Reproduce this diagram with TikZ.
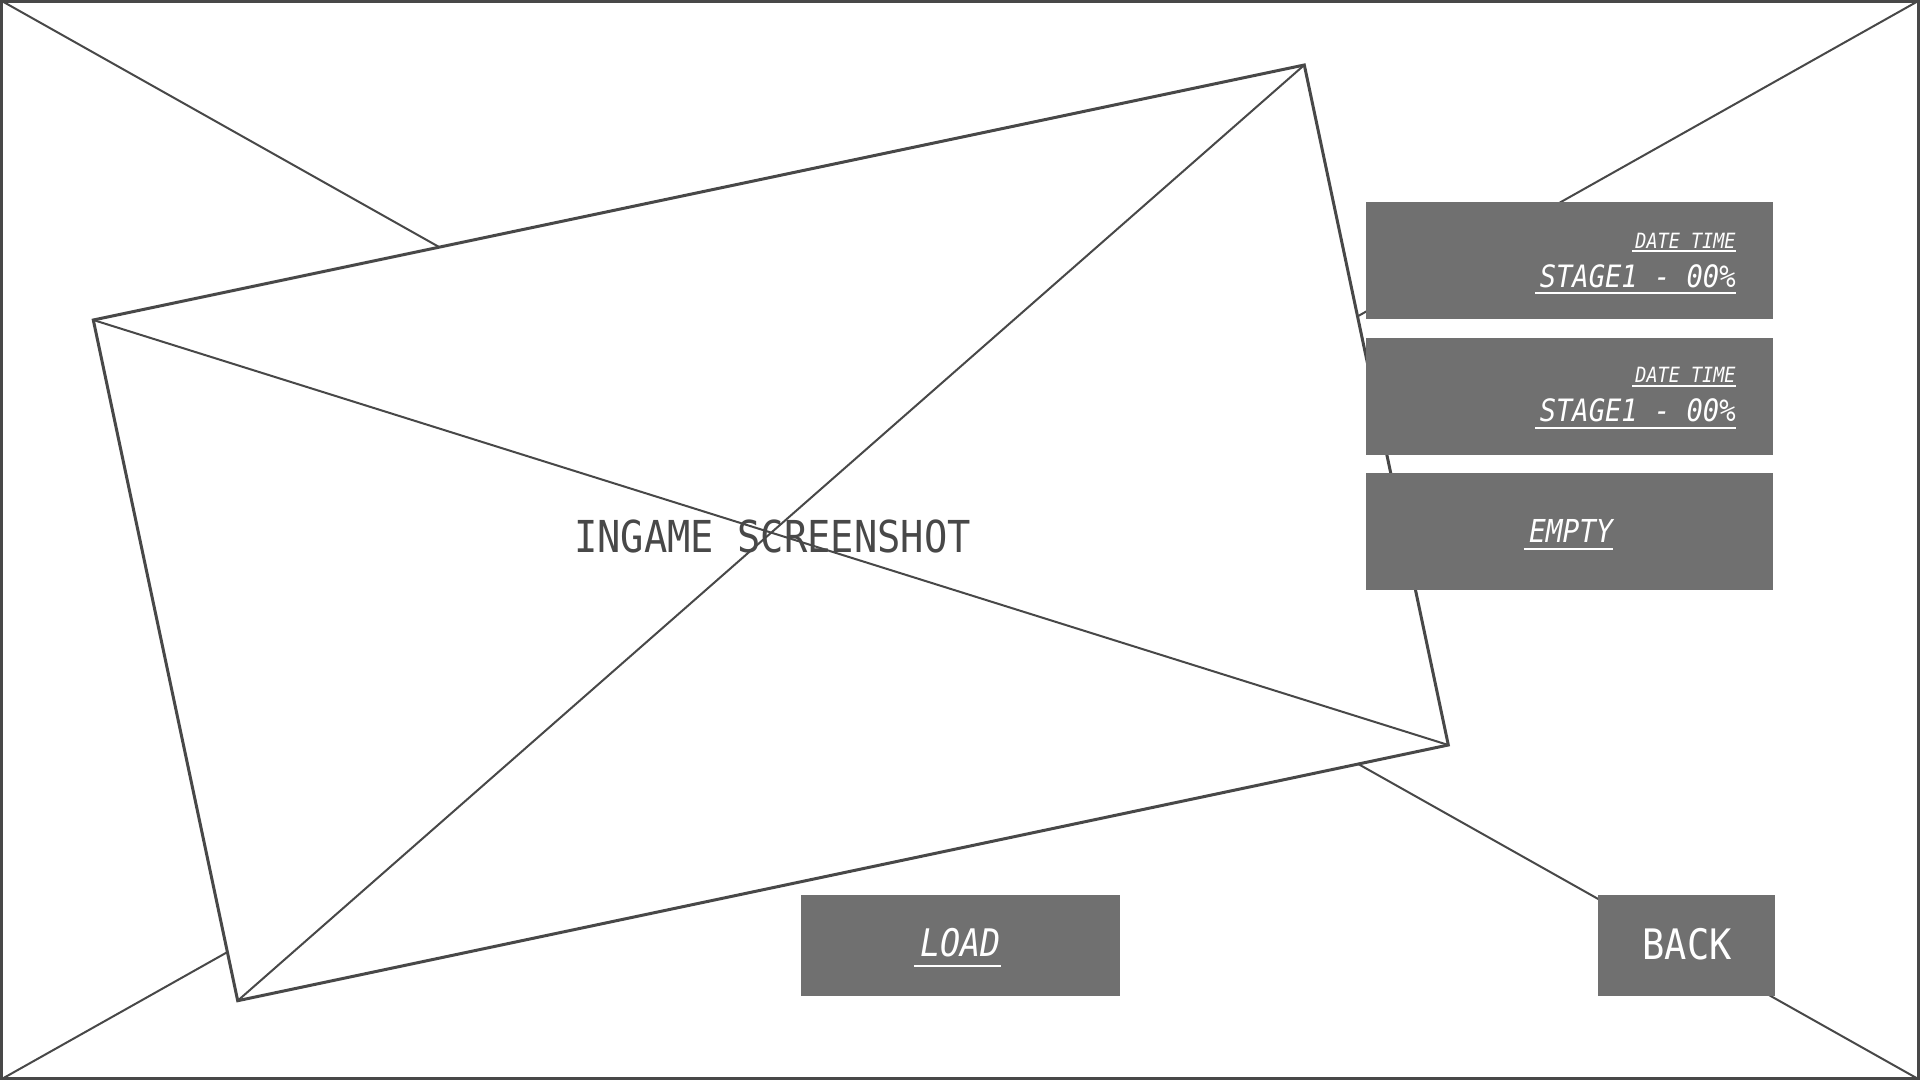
\documentclass[tikz,border=0pt]{standalone}
\usepackage{fontspec}
\usepackage{xcolor}
\usetikzlibrary{calc}
\newfontfamily\wirefont[FakeStretch=0.88]{DejaVu Sans Mono}

\definecolor{wireline}{RGB}{72,72,72}
\definecolor{wirebox}{RGB}{112,112,112}

\begin{document}
\begin{tikzpicture}[x=0.5pt,y=0.5pt,yscale=-1]
\tikzset{
  boxfill/.style={fill=wirebox,draw=none},
  btntext/.style={inner sep=0pt,text=white,font=\wirefont},
  uline/.style={draw=white,line width=1.1pt}
}
\useasboundingbox (0,0) rectangle (1920,1080);

%Shape: Frame
\draw [color=wireline,line width=1.5pt] (1.5,1.5) rectangle (1918.5,1078.5);
%Straight Lines
\draw [color=wireline,line width=1pt] (0,0) -- (1920,1080);
%Straight Lines
\draw [color=wireline,line width=1pt] (1920,0) -- (0,1080);

%Shape: Screenshot frame
\draw [color=wireline,line width=1.5pt,fill=white,line join=miter] (93.3,320) -- (1304.3,65) -- (1448.3,745) -- (237.7,1000.7) -- cycle;
%Straight Lines
\draw [color=wireline,line width=1pt] (93.3,320) -- (1448.3,745);
%Straight Lines
\draw [color=wireline,line width=1pt] (1304.3,65) -- (237.7,1000.7);

% Text Node
\draw (772.5,552.7) node [anchor=base,inner sep=0pt,text=wireline,font=\wirefont\fontsize{22}{26}\selectfont] (shot) {INGAME SCREENSHOT};

%Shape: Rectangle
\draw [boxfill] (1366,202) rectangle (1773,318.7);
%Shape: Rectangle
\draw [boxfill] (1366,338) rectangle (1773,454.7);
%Shape: Rectangle
\draw [boxfill] (1366,473) rectangle (1773,589.7);
%Shape: Rectangle
\draw [boxfill] (801,895) rectangle (1120,996);
%Shape: Rectangle
\draw [boxfill] (1598,895) rectangle (1775,996);

% Text Node
\draw (1736,248.3) node [anchor=base east,btntext,font=\wirefont\itshape\fontsize{10.5}{12}\selectfont] (dateA) {DATE TIME};
% Text Node
\draw (1736,287.3) node [anchor=base east,btntext,font=\wirefont\itshape\fontsize{15.4}{18}\selectfont] (stageA) {STAGE1 - 00\%};
% Text Node
\draw (1736,382.7) node [anchor=base east,btntext,font=\wirefont\itshape\fontsize{10.5}{12}\selectfont] (dateB) {DATE TIME};
% Text Node
\draw (1736,421.7) node [anchor=base east,btntext,font=\wirefont\itshape\fontsize{15.4}{18}\selectfont] (stageB) {STAGE1 - 00\%};
% Text Node
\draw (1571,542.7) node [anchor=base,btntext,font=\wirefont\itshape\fontsize{15.8}{18}\selectfont] (empty) {EMPTY};
% Text Node
\draw (960.5,956.7) node [anchor=base,btntext,font=\wirefont\itshape\fontsize{19}{22}\selectfont] (load) {LOAD};
% Text Node
\draw (1687,959.3) node [anchor=base,btntext,font=\wirefont\fontsize{21}{24}\selectfont] (back) {BACK};

%Underlines
\draw [uline] ($(dateA.base west)+(-3,3)$) -- ($(dateA.base east)+(0,3)$);
\draw [uline] ($(stageA.base west)+(-4,6)$) -- ($(stageA.base east)+(0,6)$);
\draw [uline] ($(dateB.base west)+(-3,3)$) -- ($(dateB.base east)+(0,3)$);
\draw [uline] ($(stageB.base west)+(-4,6)$) -- ($(stageB.base east)+(0,6)$);
\draw [uline] ($(empty.base west)+(-5,6)$) -- ($(empty.base east)+(0,6)$);
\draw [uline] ($(load.base west)+(-6,9)$) -- ($(load.base east)+(0,9)$);

\end{tikzpicture}
\end{document}
